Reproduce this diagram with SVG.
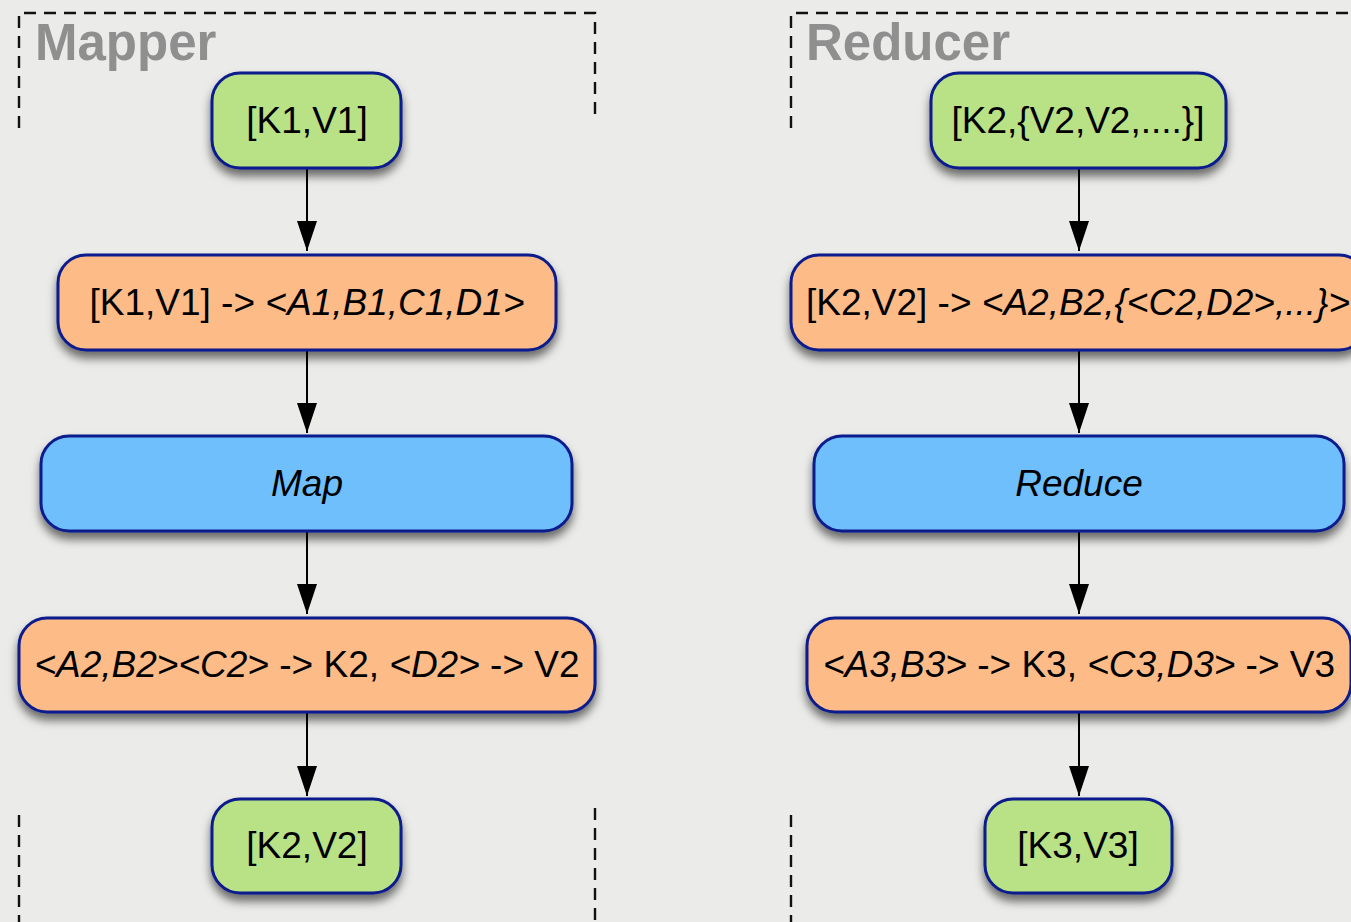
<svg xmlns="http://www.w3.org/2000/svg" width="1351" height="922" viewBox="0 0 1351 922">
<defs>
<filter id="sh" x="-20%" y="-30%" width="140%" height="180%">
<feDropShadow dx="0" dy="7" stdDeviation="5" flood-color="#000" flood-opacity="0.55"/>
</filter>
<marker id="ah" markerWidth="30" markerHeight="20" refX="30" refY="10" orient="auto" markerUnits="userSpaceOnUse" viewBox="0 0 30 20">
<path d="M0,0 L30,10 L0,20 Z" fill="#000"/>
</marker>
<style>
.bg{fill:#ebebe9}
.dash{stroke:#111;stroke-width:2.4;stroke-dasharray:12 8;fill:none}
.title{font-family:"Liberation Sans",Arial,sans-serif;font-weight:bold;font-size:51px;fill:#8f8f8f}
.box{stroke:#0b1c8c;stroke-width:3;filter:url(#sh)}
.g{fill:#b9e185}
.o{fill:#fdbb88}
.b{fill:#6ebffc}
.t{font-family:"Liberation Sans",Arial,sans-serif;font-size:37px;fill:#000;text-anchor:middle}
.i{font-style:italic}
.c{stroke:#000;stroke-width:2;fill:none}
</style>
</defs>
<rect class="bg" x="0" y="0" width="1351" height="922"/>
<g id="mapper-frame">
<path class="dash" d="M19,128 L19,13 L595,13 L595,121"/>
<path class="dash" d="M19,815 L19,922"/>
<path class="dash" d="M595,808 L595,922"/>
<text class="title" x="35" y="60">Mapper</text>
</g>
<g id="reducer-frame">
<path class="dash" d="M791,128 L791,13 L1351,13"/>
<path class="dash" d="M791,815 L791,922"/>
<text class="title" x="806" y="60">Reducer</text>
</g>
<g id="connectors">
<line class="c" x1="307" y1="168" x2="307" y2="251" marker-end="url(#ah)"/>
<line class="c" x1="307" y1="350" x2="307" y2="433" marker-end="url(#ah)"/>
<line class="c" x1="307" y1="531" x2="307" y2="614" marker-end="url(#ah)"/>
<line class="c" x1="307" y1="712" x2="307" y2="796" marker-end="url(#ah)"/>
<line class="c" x1="1079" y1="168" x2="1079" y2="251" marker-end="url(#ah)"/>
<line class="c" x1="1079" y1="350" x2="1079" y2="433" marker-end="url(#ah)"/>
<line class="c" x1="1079" y1="531" x2="1079" y2="614" marker-end="url(#ah)"/>
<line class="c" x1="1079" y1="712" x2="1079" y2="796" marker-end="url(#ah)"/>
</g>
<g id="m1"><rect class="box g" x="212" y="73" width="189" height="95" rx="28"/><text class="t" x="307" y="133">[K1,V1]</text></g>
<g id="m2"><rect class="box o" x="58" y="255" width="498" height="95" rx="28"/><text class="t" x="307" y="315">[K1,V1] -&gt; <tspan class="i">&lt;A1,B1,C1,D1&gt;</tspan></text></g>
<g id="m3"><rect class="box b" x="41" y="436" width="531" height="95" rx="28"/><text class="t i" x="307" y="496">Map</text></g>
<g id="m4"><rect class="box o" x="19" y="618" width="576" height="94" rx="28"/><text class="t" x="307" y="677"><tspan class="i">&lt;A2,B2&gt;&lt;C2&gt;</tspan> -&gt; K2, <tspan class="i">&lt;D2&gt;</tspan> -&gt; V2</text></g>
<g id="m5"><rect class="box g" x="212" y="799" width="189" height="94" rx="28"/><text class="t" x="307" y="858">[K2,V2]</text></g>
<g id="r1"><rect class="box g" x="931" y="73" width="295" height="95" rx="28"/><text class="t" x="1078" y="133">[K2,{V2,V2,....}]</text></g>
<g id="r2"><rect class="box o" x="791" y="255" width="576" height="95" rx="28"/><text class="t" x="1078" y="315">[K2,V2] -&gt; <tspan class="i">&lt;A2,B2,{&lt;C2,D2&gt;,...}&gt;</tspan></text></g>
<g id="r3"><rect class="box b" x="814" y="436" width="530" height="95" rx="28"/><text class="t i" x="1079" y="496">Reduce</text></g>
<g id="r4"><rect class="box o" x="807" y="618" width="544" height="94" rx="28"/><text class="t" x="1079" y="677"><tspan class="i">&lt;A3,B3&gt;</tspan> -&gt; K3, <tspan class="i">&lt;C3,D3&gt;</tspan> -&gt; V3</text></g>
<g id="r5"><rect class="box g" x="985" y="799" width="187" height="94" rx="28"/><text class="t" x="1078" y="858">[K3,V3]</text></g>
</svg>
